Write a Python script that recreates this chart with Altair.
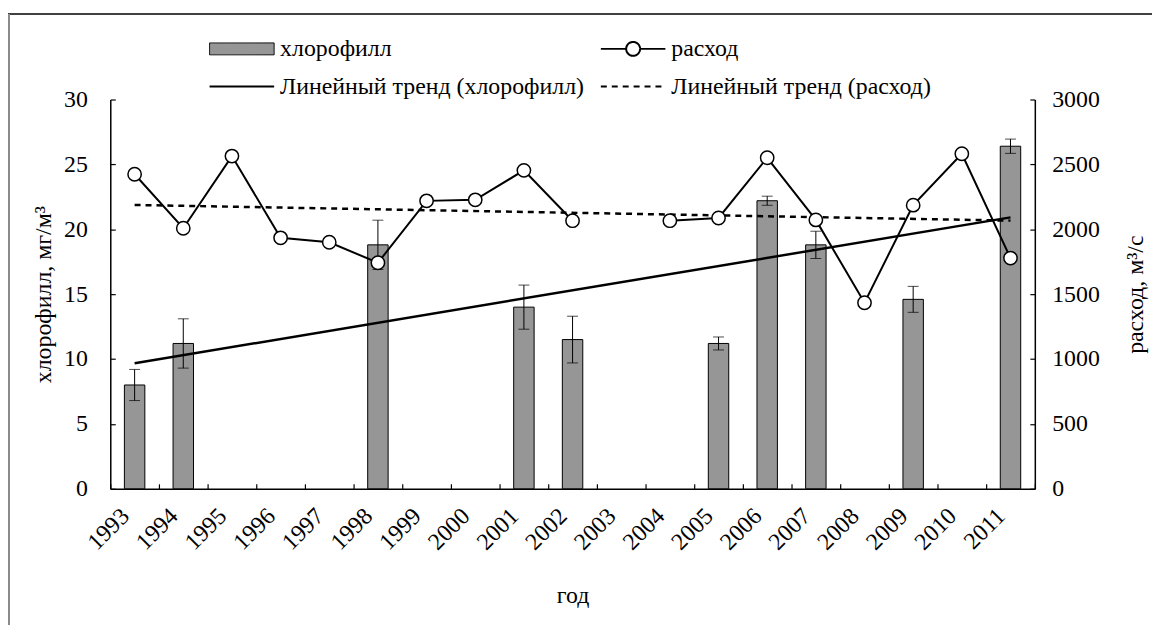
import altair as alt
import pandas as pd

# ---- data ----
years = list(range(1993, 2012))
chl = [8.0, 11.2, None, None, None, 18.8, None, None, 14.0, 11.5, None, None,
       11.2, 22.2, 18.8, None, 14.6, None, 26.4]
chl_err = [1.2, 1.9, None, None, None, 1.9, None, None, 1.7, 1.8, None, None,
           0.5, 0.35, 1.05, None, 1.0, None, 0.55]
flow = [2424, 2008, 2564, 1934, 1900, 1742, 2219, 2227, 2454, 2066, None, 2066,
        2087, 2551, 2072, 1434, 2186, 2582, 1778]
# legend order (filled column by column): col 1 = chlorophyll, col 2 = flow
series_names = ["хлорофилл", "Линейный тренд (хлорофилл)",
                "расход", "Линейный тренд (расход)"]
left_ticks = [0, 5, 10, 15, 20, 25, 30]
right_ticks = [0, 500, 1000, 1500, 2000, 2500, 3000]

df = pd.DataFrame({"year": years, "chl": chl, "err": chl_err, "flow": flow})
df["lo"] = df["chl"] - df["err"]
df["hi"] = df["chl"] + df["err"]
df["seg"] = df["flow"].isna().cumsum()
df["ser"] = series_names[0]

FONT = "Liberation Serif"
FS = 24

x_axis = alt.Axis(title="год", labelAngle=315, labelAlign="right",
                  labelBaseline="top", labelOffset=-18, tickBand="extent",
                  tickSize=alt.ExprRef(expr="-5"), labelPadding=20,
                  titlePadding=30, domainColor="black", tickColor="black")
x_enc = alt.X("year:O", scale=alt.Scale(type="band", domain=years,
                                         paddingInner=0, paddingOuter=0),
              axis=x_axis)

left_axis = alt.Axis(title="хлорофилл, мг/м³", values=left_ticks,
                     tickSize=alt.ExprRef(expr="-5"), labelPadding=28,
                     titlePadding=8, domainColor="black", tickColor="black")
left_scale = alt.Scale(domain=[0, 30], nice=False)

right_axis = alt.Axis(title="расход, м³/с", orient="right", values=right_ticks,
                      format="d", tickSize=alt.ExprRef(expr="-5"),
                      labelPadding=22, titlePadding=24, titleAngle=270,
                      titleBaseline="top", domainColor="black",
                      tickColor="black")
right_scale = alt.Scale(domain=[0, 3000], nice=False)

sym_expr = ("datum.value === 'хлорофилл' ? 'M-1,-0.6H5.5V0.6H-1Z' : "
            "datum.value === 'расход' ? "
            "'M-1,0H1.55M2.95,0H5.5M1.55,0A0.7,0.7 0 1 1 2.95,0A0.7,0.7 0 1 1 1.55,0Z' : "
            "'M-1,0H5.5'")
dash_expr = "datum.value === 'Линейный тренд (расход)' ? [6, 5] : [1, 0]"
sw_expr = "datum.value === 'хлорофилл' ? 1 : 2"

legend = alt.Legend(title=None, orient="none", legendX=98, legendY=-63,
                    columns=2, symbolType=alt.ExprRef(expr=sym_expr),
                    symbolSize=400, symbolStrokeColor="black",
                    symbolStrokeWidth=alt.ExprRef(expr=sw_expr),
                    symbolDash=alt.ExprRef(expr=dash_expr),
                    symbolOffset=0, labelOffset=49, labelFont=FONT,
                    labelFontSize=FS, labelColor="black", labelLimit=0,
                    rowPadding=14, columnPadding=12)

base = alt.Chart(df)

bars = base.mark_bar(width={"band": 0.42}, stroke="black").encode(
    x=x_enc,
    y=alt.Y("chl:Q", scale=left_scale, axis=left_axis),
    color=alt.Color("ser:N", scale=alt.Scale(
        domain=series_names,
        range=["#969696", "transparent", "white", "transparent"]),
        legend=legend),
)
err_rule = base.mark_rule(color="black", strokeWidth=1).encode(
    x=x_enc,
    y=alt.Y("lo:Q", scale=left_scale, axis=left_axis),
    y2="hi:Q",
)
cap_hi = base.mark_tick(color="black", thickness=1, size=11).encode(
    x=x_enc, y=alt.Y("hi:Q", scale=left_scale, axis=left_axis))
cap_lo = base.mark_tick(color="black", thickness=1, size=11).encode(
    x=x_enc, y=alt.Y("lo:Q", scale=left_scale, axis=left_axis))
chl_trend = base.transform_regression("year", "chl").mark_line(
    color="black", strokeWidth=2.5).encode(
    x=x_enc, y=alt.Y("chl:Q", scale=left_scale, axis=left_axis))

left_group = alt.layer(bars, err_rule, cap_hi, cap_lo, chl_trend)

flow_trend = base.transform_regression("year", "flow").mark_line(
    color="black", strokeWidth=2.5, strokeDash=[6, 5]).encode(
    x=x_enc, y=alt.Y("flow:Q", scale=right_scale, axis=right_axis))
flow_line = base.mark_line(color="black", strokeWidth=2).encode(
    x=x_enc, y=alt.Y("flow:Q", scale=right_scale, axis=right_axis),
    detail="seg:N")
flow_pts = base.mark_point(shape="circle", size=180, filled=True, fill="white",
                           stroke="black", strokeWidth=1.5, opacity=1).encode(
    x=x_enc, y=alt.Y("flow:Q", scale=right_scale, axis=right_axis))

right_group = alt.layer(flow_trend, flow_line, flow_pts)

# outer chart-area frame (decoration, like the spreadsheet chart border)
frame_src = alt.Chart(pd.DataFrame({"f": [0]}))
frame_top = frame_src.mark_rule(color="black", strokeWidth=1.5).encode(
    x=alt.value(-103), x2=alt.value(1060), y=alt.value(-86))
frame_left = frame_src.mark_rule(color="#8a8a8a", strokeWidth=2).encode(
    x=alt.value(-102), y=alt.value(-86), y2=alt.value(540))

chart = alt.layer(left_group, right_group, frame_top, frame_left).resolve_scale(
    y="independent"
).properties(
    width=931, height=392,
    padding={"left": 103, "top": 90, "right": 118, "bottom": 135},
    autosize=alt.AutoSizeParams(type="none"),
).configure_view(stroke=None).configure_axis(
    grid=False, labelFont=FONT, labelFontSize=FS, labelColor="black",
    titleFont=FONT, titleFontSize=FS, titleFontWeight="normal",
    titleColor="black", domainWidth=1.5, tickWidth=1.2,
)

chart.save("out.html", embed_options={"renderer": "svg", "actions": False})
